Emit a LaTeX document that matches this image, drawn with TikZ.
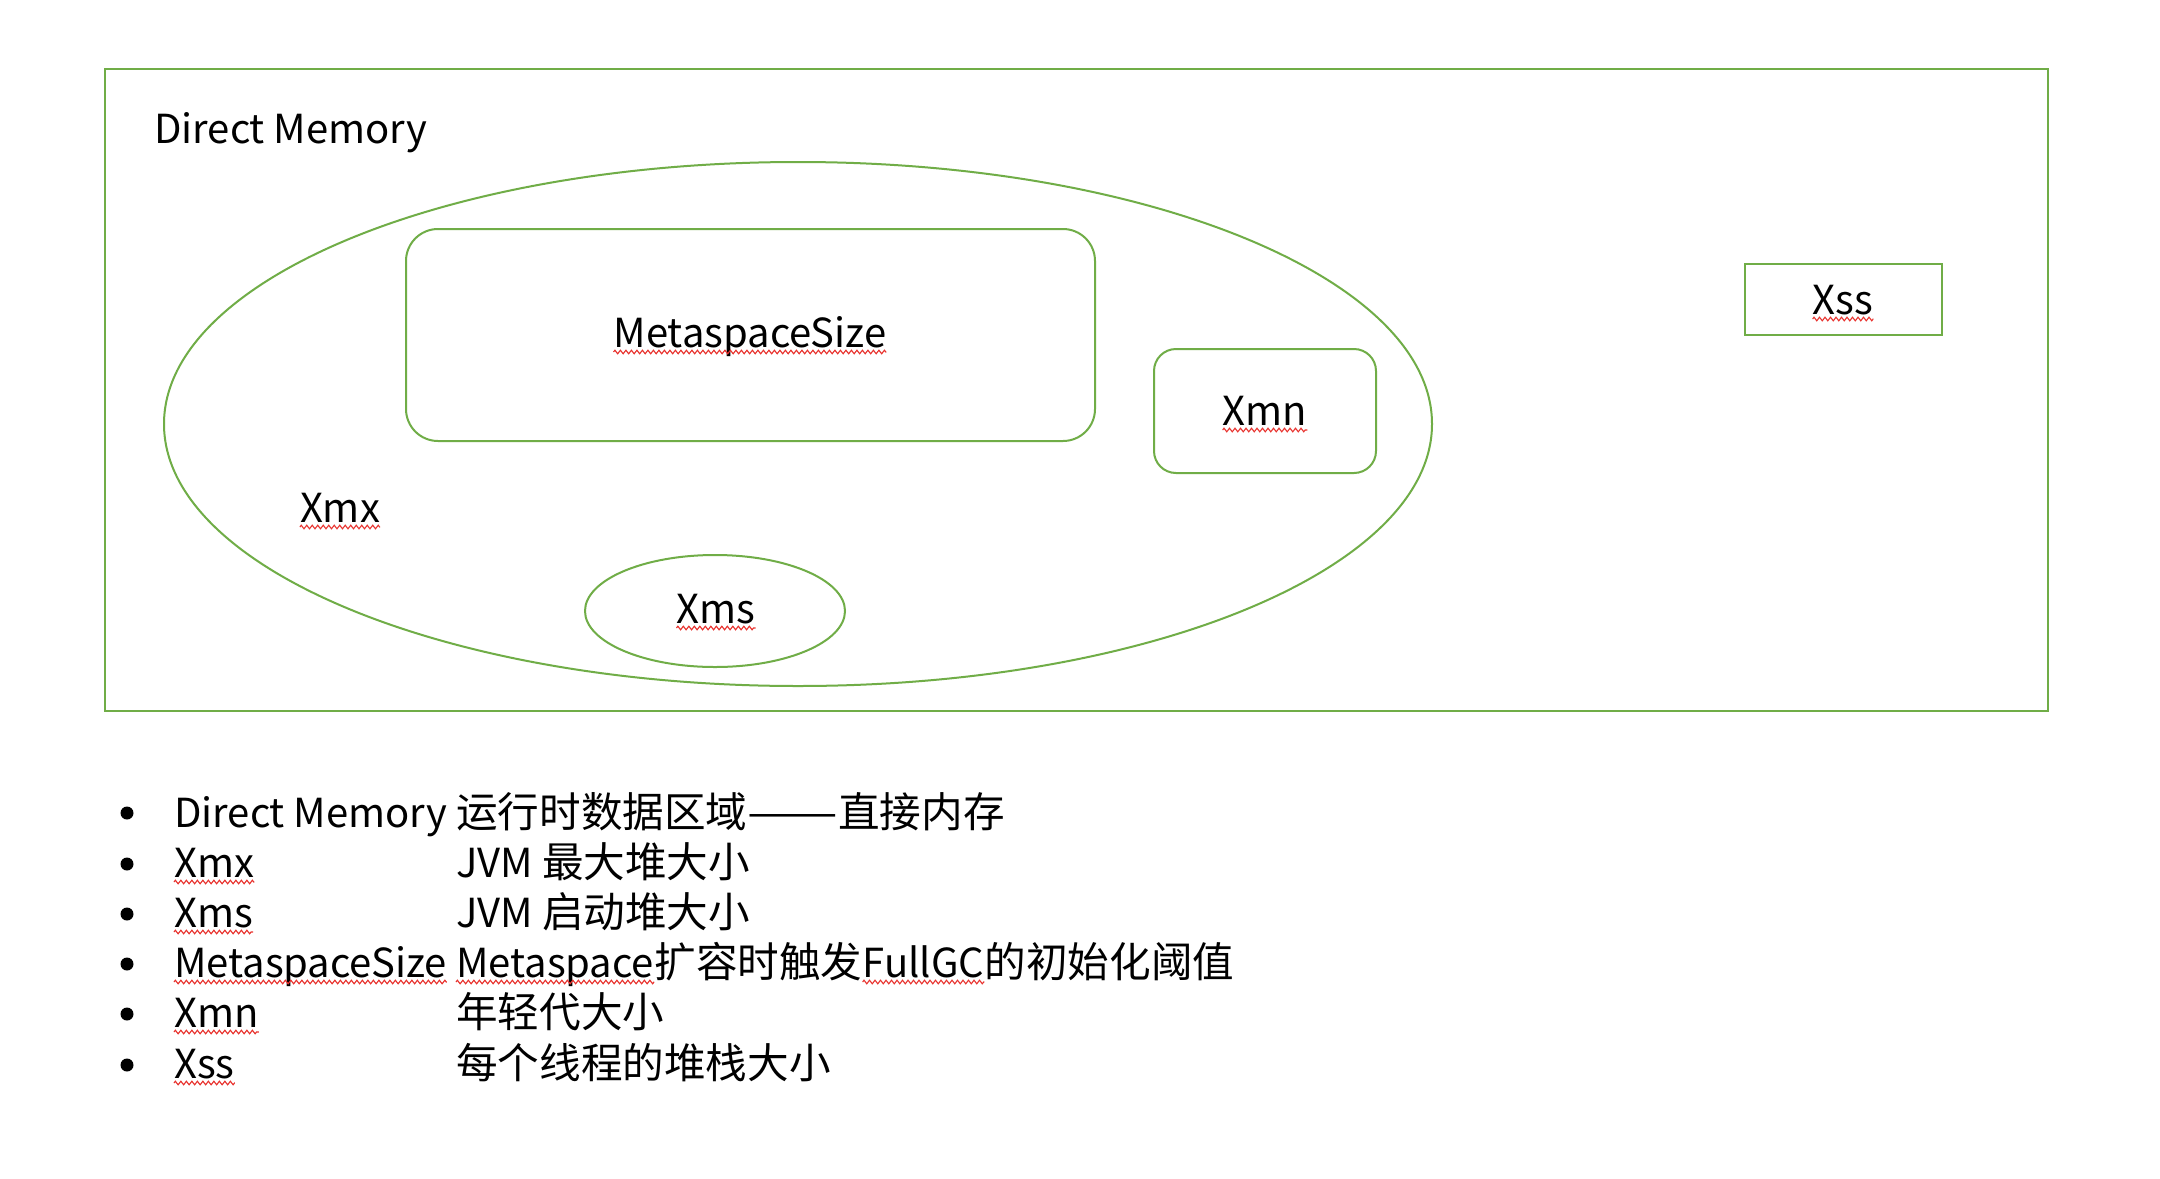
\documentclass[tikz,border=0pt]{standalone}
\usepackage{fontspec}
\setmainfont{Noto Sans CJK SC}
\usetikzlibrary{decorations.pathmorphing}
\definecolor{gr}{HTML}{70AD47}
\definecolor{wv}{HTML}{E8322E}
\newcommand{\zh}[1]{{\fontsize{41.6}{48}\selectfont #1}}
\begin{document}
\begin{tikzpicture}[x=1pt,y=-1pt,
  shp/.style={draw=gr,line width=2pt},
  lbl/.style={inner sep=0pt,font=\fontsize{40}{48}\selectfont,text=black},
  wavy/.style={draw=wv,line width=1.1pt,decorate,decoration={zigzag,segment length=5.5pt,amplitude=1.8pt}}]
\useasboundingbox (0,0) rectangle (2160,1178);
\fill[white] (0,0) rectangle (2160,1178);
% shapes
\draw[shp] (105,69) rectangle (2048,711);
\draw[shp] (798,424) ellipse [x radius=634, y radius=262];
\draw[shp,rounded corners=32pt] (406,229) rectangle (1095,441);
\draw[shp,rounded corners=22pt] (1154,349) rectangle (1376,473);
\draw[shp] (1745,264) rectangle (1942,335);
\draw[shp] (715,611) ellipse [x radius=130, y radius=56];
% diagram labels
\node[lbl,anchor=base west] (tdm) at (154,143) {Direct Memory};
\node[lbl,anchor=base] (tmeta) at (750,347) {MetaspaceSize};
\node[lbl,anchor=base] (txmn) at (1265,425) {Xmn};
\node[lbl,anchor=base] (txss) at (1843,314) {Xss};
\node[lbl,anchor=base] (txmx) at (340,522) {Xmx};
\node[lbl,anchor=base] (txms) at (716,623) {Xms};
\foreach \n in {tmeta,txmn,txss,txmx,txms}
  \draw[wavy] ([yshift=-5pt]\n.base west) -- ([yshift=-5pt]\n.base east);
% bullets
\foreach \yy in {813,864,914,964,1014,1065}
  \fill (127,\yy) circle (6.5);
\node[lbl,anchor=base west] (b1) at (174,827) {Direct Memory \zh{运行时数据区域\scalebox{1.3}[1]{——}直接内存}};
\node[lbl,anchor=base west] (b2a) at (174,877) {Xmx};
\node[lbl,anchor=base west] (b2b) at (456,877) {JVM \zh{最大堆大小}};
\node[lbl,anchor=base west] (b3a) at (174,927) {Xms};
\node[lbl,anchor=base west] (b3b) at (456,927) {JVM \zh{启动堆大小}};
\node[lbl,anchor=base west] (b4a) at (174,977) {MetaspaceSize};
\node[lbl,anchor=base west] (b4b) at (456,977) {Metaspace};
\node[lbl,anchor=base west] (b4c) at (b4b.base east) {\zh{扩容时触发}};
\node[lbl,anchor=base west] (b4d) at (b4c.base east) {FullGC};
\node[lbl,anchor=base west] (b4e) at (b4d.base east) {\zh{的初始化阈值}};
\node[lbl,anchor=base west] (b5a) at (174,1027) {Xmn};
\node[lbl,anchor=base west] (b5b) at (456,1027) {\zh{年轻代大小}};
\node[lbl,anchor=base west] (b6a) at (174,1078) {Xss};
\node[lbl,anchor=base west] (b6b) at (456,1078) {\zh{每个线程的堆栈大小}};
\foreach \n in {b2a,b3a,b4a,b4b,b4d,b5a,b6a}
  \draw[wavy] ([yshift=-5pt]\n.base west) -- ([yshift=-5pt]\n.base east);
\end{tikzpicture}
\end{document}
